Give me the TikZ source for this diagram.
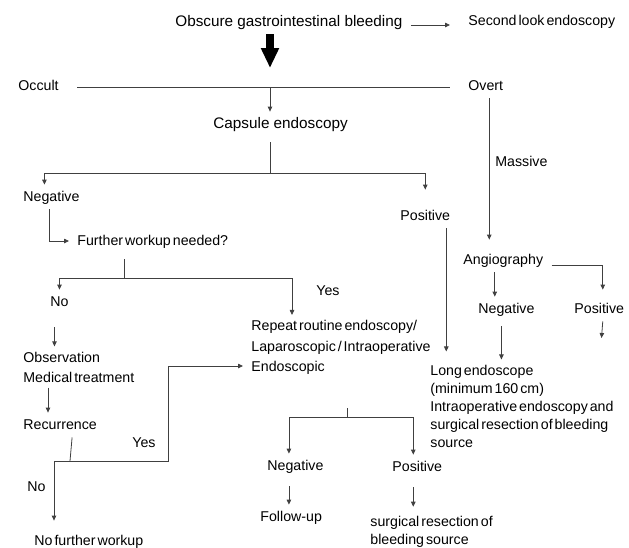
\documentclass[tikz,border=0pt]{standalone}
\usepackage{fontspec}
\setmainfont{Liberation Sans}[WordSpace=0.5]
\usetikzlibrary{arrows.meta}
\newcommand\headfont{\fontsize{15.3}{18}\selectfont\spaceskip 4.2pt plus 1.5pt minus 1pt\relax}

\begin{document}
\begin{tikzpicture}
  [x=1pt,y=-1pt,line width=0.8pt,color=black!75,
   lbl/.style={anchor=west,xshift=-8pt,inner xsep=8pt,inner ysep=5pt,text=black,
     text height=11pt,text depth=3pt,font=\fontsize{14.2}{18}\selectfont},
   head/.style={lbl,font=\headfont},
   blk/.style={anchor=west,xshift=-8pt,inner xsep=8pt,inner ysep=5pt,text=black,
     align=left,font=\fontsize{14.2}{#1}\selectfont},
   tip/.style={-{Triangle[length=5pt,width=4.5pt]}},
   bigarrow/.style={line width=8pt,color=black,-{Triangle[length=20pt,width=17pt]}}]
  \useasboundingbox (0,0) rectangle (629,547);
  % labels
  \node[head] (obscure) at (175,22) {Obscure gastrointestinal bleeding};
  \node[lbl] (second) at (468,21) {Second look endoscopy};
  \node[lbl] (occult) at (18,86) {Occult};
  \node[lbl] (overt) at (468,86) {Overt};
  \node[head] (capsule) at (213,124) {Capsule endoscopy};
  \node[lbl] (massive) at (495,162) {Massive};
  \node[lbl] (neg1) at (23,197) {Negative};
  \node[lbl] (pos1) at (400,216) {Positive};
  \node[lbl] (further) at (77,241) {Further workup needed?};
  \node[lbl] (angio) at (463,260) {Angiography};
  \node[lbl] (yes1) at (316,291) {Yes};
  \node[lbl] (no1) at (50,302) {No};
  \node[lbl] (negA) at (478,309) {Negative};
  \node[lbl] (posA) at (574,309) {Positive};
  \node[blk=20.5pt] (repeat) at (251,347.5) {Repeat routine endoscopy/\\Laparoscopic / Intraoperative\\Endoscopic};
  \node[blk=20pt] (observ) at (23,367) {Observation\\Medical treatment};
  \node[blk=18.2pt] (longend) at (430,406.5) {Long endoscope\\(minimum 160 cm)\\Intraoperative endoscopy and\\surgical resection of bleeding\\source};
  \node[lbl] (recur) at (23,425) {Recurrence};
  \node[lbl] (yes2) at (132,443) {Yes};
  \node[lbl] (negR) at (267,466) {Negative};
  \node[lbl] (posR) at (392,467) {Positive};
  \node[lbl] (no2) at (27,487) {No};
  \node[lbl] (follow) at (260,517) {Follow-up};
  \node[blk=18.5pt] (surgical) at (370,532) {surgical resection of\\bleeding source};
  \node[lbl] (nofurther) at (34,541) {No further workup};
  % junctions
  \coordinate (split) at (270,87);
  \coordinate (cbr) at (270,173);
  \coordinate (fbr) at (124,278);
  \coordinate (rbr) at (70,461);
  \coordinate (nbr) at (54,461);
  \coordinate (loopc) at (168,461);
  \coordinate (ebr) at (347,417);
  \coordinate (pA) at (601.5,338);
  % top
  \draw[tip,shorten >=10pt] ([yshift=-3pt]obscure.east) -- ([yshift=-3pt]obscure.east -| second.west);
  \draw[bigarrow,shorten >=19pt] (obscure.south -| split) -- (split);
  \draw[shorten <=10pt,shorten >=10pt] ([yshift=-1pt]occult.east) -- ([yshift=-1pt]overt.west);
  \draw[tip] (split) -- (split |- capsule.north);
  \draw[shorten <=6pt] (split |- capsule.south) -- (cbr);
  \draw[tip] (cbr) -| ([xshift=-7pt]neg1.north);
  \draw[tip,shorten >=14pt] (cbr) -| (pos1.north);
  % overt side
  \draw[tip,shorten >=8pt] ([xshift=3.5pt]overt.south) -- ([xshift=3.5pt]overt.south |- angio.north);
  \draw[tip] ([xshift=-8.5pt]angio.south) -- ([xshift=-8.5pt]angio.south |- negA.north);
  \draw[tip,shorten >=7pt] ([yshift=-5pt]angio.east) -| ([xshift=3.5pt]posA.north);
  \draw[tip] ([xshift=3.5pt]posA.south) -- (pA);
  \draw[tip,shorten <=5pt] ([xshift=-5pt]negA.south) -- ([xshift=-5pt]negA.south |- longend.north);
  \draw[tip,shorten >=8pt] ([xshift=21pt]pos1.south) -- ([xshift=21pt]pos1.south |- longend.north);
  % negative branch
  \draw[tip] ([xshift=-2pt]neg1.south) |- (further.west);
  \draw[shorten <=6pt] (further.south -| fbr) -- (fbr);
  \draw[tip] (fbr) -| (no1.north);
  \draw[tip] (fbr) -| ([xshift=49pt]repeat.north west);
  \draw[tip,shorten <=13pt] ([xshift=-5pt]no1.south) -- ([xshift=-5pt]no1.south |- observ.north);
  \draw[tip] ([xshift=33pt]observ.south west) -- ([xshift=33pt]observ.south west |- recur.north);
  \draw ([xshift=12pt]recur.south) -- (rbr);
  \draw[tip] (nbr) -- (loopc) |- ([yshift=-18.5pt]repeat.west);
  \draw[tip,shorten >=8pt] (nbr) -- (nbr |- nofurther.north);
  % repeat endoscopy
  \draw[shorten <=28pt] (repeat.south -| ebr) -- (ebr);
  \draw[tip] (ebr) -| ([xshift=-6.5pt]negR.north);
  \draw[tip] (ebr) -| ([xshift=-4pt]posR.north);
  \draw[tip,shorten <=8pt] ([xshift=-6.5pt]negR.south) -- ([xshift=-6.5pt]negR.south |- follow.north);
  \draw[tip,shorten <=8pt,shorten >=4pt] ([xshift=-4pt]posR.south) -- ([xshift=-4pt]posR.south |- surgical.north);
\end{tikzpicture}
\end{document}
